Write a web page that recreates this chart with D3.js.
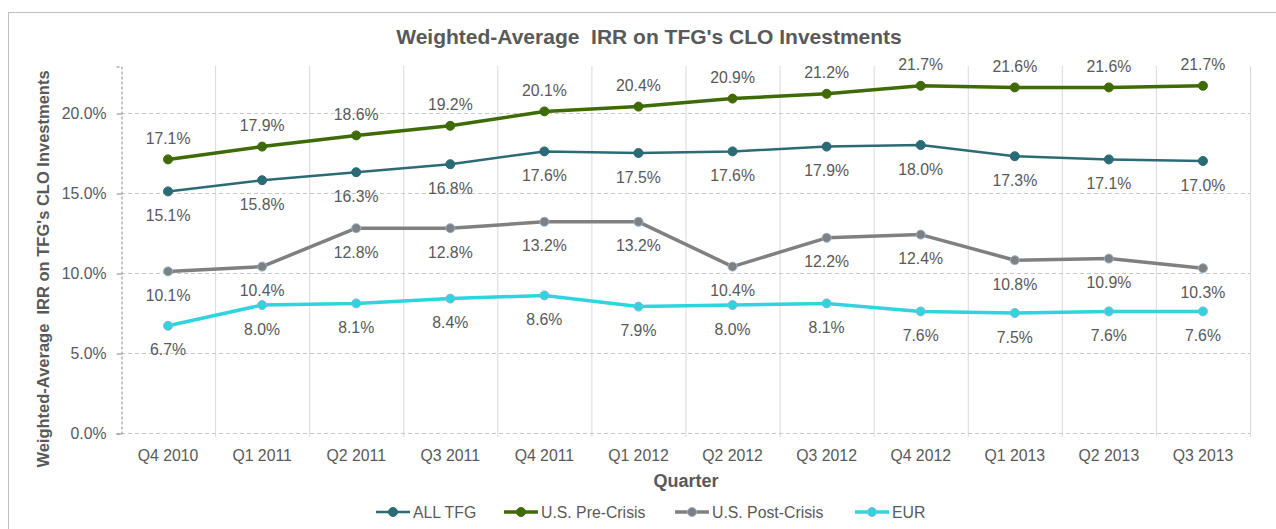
<!DOCTYPE html>
<html>
<head>
<meta charset="utf-8">
<script src="https://cdn.jsdelivr.net/npm/d3@7"></script>
<style>
  body { margin: 0; background: #fff; }
  svg { display: block; font-family: "Liberation Sans", Arial, sans-serif; }
  svg text { white-space: pre; }
</style>
</head>
<body>
<svg id="chart" width="1276" height="529"></svg>
<script>
// ----- data
var quarters = ["Q4 2010", "Q1 2011", "Q2 2011", "Q3 2011", "Q4 2011", "Q1 2012",
                "Q2 2012", "Q3 2012", "Q4 2012", "Q1 2013", "Q2 2013", "Q3 2013"];
var allTfg = [15.1, 15.8, 16.3, 16.8, 17.6, 17.5, 17.6, 17.9, 18.0, 17.3, 17.1, 17.0];
var usPreCrisis = [17.1, 17.9, 18.6, 19.2, 20.1, 20.4, 20.9, 21.2, 21.7, 21.6, 21.6, 21.7];
var usPostCrisis = [10.1, 10.4, 12.8, 12.8, 13.2, 13.2, 10.4, 12.2, 12.4, 10.8, 10.9, 10.3];
var eur = [6.7, 8.0, 8.1, 8.4, 8.6, 7.9, 8.0, 8.1, 7.6, 7.5, 7.6, 7.6];
var yTicks = [0, 5, 10, 15, 20];

var series = [
    { name: "ALL TFG", values: allTfg, color: "#2b6b75", width: 2.5, marker: "#2b6b75", labelPos: "below" },
    { name: "U.S. Pre-Crisis", values: usPreCrisis, color: "#3f6b06", width: 3.5, marker: "#3f6b06", labelPos: "above" },
    { name: "U.S. Post-Crisis", values: usPostCrisis, color: "#808080", width: 3.5, marker: "#8fb3d6", labelPos: "below" },
    { name: "EUR", values: eur, color: "#2fd4de", width: 3.5, marker: "#8fb3d6", labelPos: "below" }
];

drawChart();

function drawChart() {
    var svg = d3.select("#chart");
    var textColor = "#595959";
    var labelSize = 15.8;

    // outer frame (runs off the right and bottom edges)
    svg.append("rect")
        .attr("x", 8.5).attr("y", 12.5)
        .attr("width", 1300).attr("height", 600)
        .attr("fill", "none")
        .attr("stroke", "#bfbfbf")
        .attr("stroke-width", 1);

    var left = 121, right = 1250, top = 66, bottom = 433;

    var x = d3.scaleBand().domain(quarters).range([left, right]);
    var y = d3.scaleLinear().domain([0, 5 * (bottom - top) / 80]).range([bottom, top]);

    // title
    svg.append("text")
        .attr("x", 649).attr("y", 44)
        .attr("text-anchor", "middle")
        .attr("font-size", 21).attr("font-weight", "bold")
        .attr("fill", textColor)
        .text("Weighted-Average  IRR on TFG's CLO Investments");

    // vertical gridlines at band edges
    var edges = quarters.map(function (q) { return x(q); }).concat([right]);
    svg.append("g").selectAll("line")
        .data(edges.slice(1))
        .enter().append("line")
        .attr("x1", function (d) { return d + 0.5; })
        .attr("x2", function (d) { return d + 0.5; })
        .attr("y1", top).attr("y2", bottom + 4)
        .attr("stroke", "#d9d9d9").attr("stroke-width", 1);

    // horizontal gridlines (dashed)
    svg.append("g").selectAll("line")
        .data(yTicks)
        .enter().append("line")
        .attr("x1", left).attr("x2", right)
        .attr("y1", function (d) { return Math.round(y(d)) + 0.5; })
        .attr("y2", function (d) { return Math.round(y(d)) + 0.5; })
        .attr("stroke", "#c8c8c8").attr("stroke-dasharray", "4,3");

    // y axis
    var yAxis = svg.append("g")
        .attr("transform", "translate(" + (left + 0.5) + ",0.5)")
        .call(d3.axisLeft(y).tickValues(yTicks).tickSize(5).tickPadding(10)
            .tickFormat(function (d) { return d.toFixed(1) + "%"; }));
    yAxis.select(".domain").attr("stroke", "#8c8c8c").attr("stroke-dasharray", "3,2");
    yAxis.selectAll(".tick line").attr("stroke", "#8c8c8c");
    yAxis.selectAll(".tick text").attr("fill", textColor).attr("font-size", labelSize)
        .attr("font-family", "Liberation Sans, Arial, sans-serif");

    // x labels
    svg.append("g").selectAll("text")
        .data(quarters)
        .enter().append("text")
        .attr("x", function (d) { return x(d) + x.bandwidth() / 2; })
        .attr("y", 461)
        .attr("text-anchor", "middle")
        .attr("font-size", labelSize).attr("fill", textColor)
        .text(function (d) { return d; });

    // axis titles
    svg.append("text")
        .attr("x", 686).attr("y", 487)
        .attr("text-anchor", "middle")
        .attr("font-size", 18).attr("font-weight", "bold").attr("fill", textColor)
        .text("Quarter");

    svg.append("text")
        .attr("transform", "translate(49,269) rotate(-90)")
        .attr("text-anchor", "middle")
        .attr("font-size", 16.5).attr("font-weight", "bold").attr("fill", textColor)
        .text("Weighted-Average  IRR on TFG's CLO Investments");

    var line = d3.line()
        .x(function (d, i) { return x(quarters[i]) + x.bandwidth() / 2; })
        .y(function (d) { return y(d); });

    var g = svg.selectAll(".series")
        .data(series)
        .enter().append("g")
        .attr("class", "series");

    g.append("path")
        .attr("d", function (s) { return line(s.values); })
        .attr("fill", "none")
        .attr("stroke", function (s) { return s.color; })
        .attr("stroke-width", function (s) { return s.width; })
        .attr("stroke-linejoin", "round");

    g.each(function (s) {
        var grp = d3.select(this);
        grp.selectAll("circle")
            .data(s.values)
            .enter().append("circle")
            .attr("cx", function (d, i) { return x(quarters[i]) + x.bandwidth() / 2; })
            .attr("cy", function (d) { return y(d); })
            .attr("r", 4.5)
            .attr("fill", s.color)
            .attr("stroke", s.marker)
            .attr("stroke-width", 1);

        grp.selectAll("text.lbl")
            .data(s.values)
            .enter().append("text")
            .attr("class", "lbl")
            .attr("x", function (d, i) { return x(quarters[i]) + x.bandwidth() / 2; })
            .attr("y", function (d) { return y(d) + (s.labelPos == "above" ? -15.5 : 29.5); })
            .attr("text-anchor", "middle")
            .attr("font-size", labelSize).attr("fill", textColor)
            .text(function (d) { return d.toFixed(1) + "%"; });
    });

    // legend
    var legendX = [376, 504, 675, 855];
    var lg = svg.selectAll(".legend")
        .data(series)
        .enter().append("g")
        .attr("class", "legend")
        .attr("transform", function (s, i) { return "translate(" + legendX[i] + ",512)"; });
    lg.append("line")
        .attr("x1", 0).attr("x2", 34).attr("y1", 0).attr("y2", 0)
        .attr("stroke", function (s) { return s.color; })
        .attr("stroke-width", function (s) { return s.width; });
    lg.append("circle")
        .attr("cx", 17).attr("cy", 0).attr("r", 4.5)
        .attr("fill", function (s) { return s.color; })
        .attr("stroke", function (s) { return s.marker; });
    lg.append("text")
        .attr("x", 37).attr("y", 5.5)
        .attr("font-size", labelSize).attr("fill", textColor)
        .text(function (s) { return s.name; });
}
</script>
</body>
</html>
